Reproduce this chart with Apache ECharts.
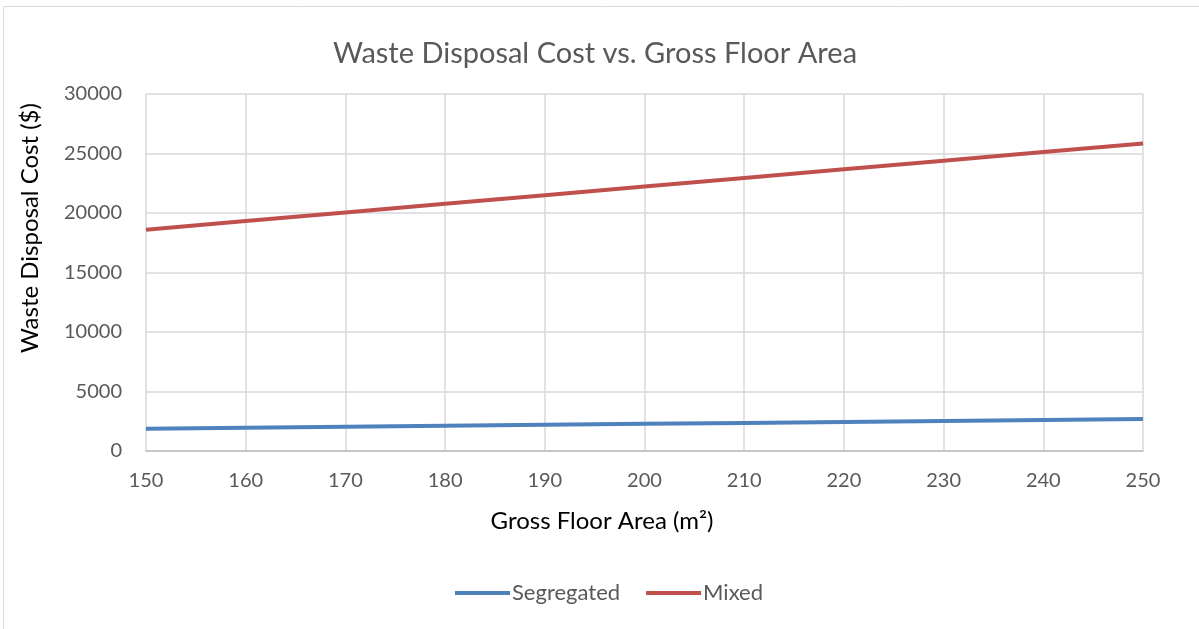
<!DOCTYPE html>
<html><head><meta charset="utf-8">
<script src="https://cdn.jsdelivr.net/npm/echarts@6/dist/echarts.min.js"></script>
<style>html,body{margin:0;padding:0;background:#fff}#c{width:1199px;height:629px}</style>
</head><body><div id="c"></div>
<script>
const areas = [150, 160, 170, 180, 190, 200, 210, 220, 230, 240, 250];
const segregated = [1880, 1960, 2040, 2120, 2200, 2280, 2360, 2440, 2520, 2600, 2680];
const mixed = [18600, 19325, 20050, 20775, 21500, 22225, 22950, 23675, 24400, 25125, 25850];
const xTicks = {min: 150, max: 250, step: 10};
const yTicks = {min: 0, max: 30000, step: 5000};
const FONT = 'Lato';
const chart = echarts.init(document.getElementById('c'));
chart.setOption({
  animation: false,
  textStyle: {fontFamily: FONT},
  title: {text: 'Waste Disposal Cost vs. Gross Floor Area', left: 328, top: 34,
    textStyle: {fontFamily: FONT, fontSize: 29, fontWeight: 'normal', color: '#595959'}},
  grid: {left: 146, right: 56, top: 94, bottom: 178},
  legend: {bottom: 20, left: 450, icon: 'rect', itemWidth: 55, itemHeight: 4, itemGap: 26,
    textStyle: {fontFamily: FONT, fontSize: 22, color: '#595959', padding: [0,0,0,-3]},
    data: ['Segregated', 'Mixed']},
  xAxis: {type: 'value', min: xTicks.min, max: xTicks.max, interval: xTicks.step,
    axisLine: {lineStyle: {color: '#bfbfbf', width: 1.5}}, axisTick: {show: false},
    axisLabel: {fontFamily: FONT, fontSize: 20, color: '#595959', margin: 20},
    splitLine: {show: true, lineStyle: {color: '#d9d9d9', width: 1.5}}},
  yAxis: {type: 'value', min: yTicks.min, max: yTicks.max, interval: yTicks.step,
    axisLine: {show: false}, axisTick: {show: false},
    axisLabel: {fontFamily: FONT, fontSize: 20, color: '#595959', margin: 24, formatter: v => String(v)},
    splitLine: {show: true, lineStyle: {color: '#d9d9d9', width: 1.5}}},
  graphic: [
    {type: 'rect', shape: {x: 3.5, y: 6.5, width: 1300, height: 700}, style: {fill: 'none', stroke: '#d9d9d9', lineWidth: 1}, silent: true},
    {type: 'text', x: 602, y: 521, style: {text: 'Gross Floor Area (m²)', font: '24px ' + FONT, fill: '#000', align: 'center', verticalAlign: 'middle'}},
    {type: 'text', x: 30, y: 228, rotation: Math.PI / 2, style: {text: 'Waste Disposal Cost ($)', font: '24px ' + FONT, fill: '#000', align: 'center', verticalAlign: 'middle'}}
  ],
  series: [
    {name: 'Segregated', type: 'line', showSymbol: false, symbol: 'none', color: '#4f81bd',
      lineStyle: {width: 4, color: '#4f81bd'}, data: areas.map((a, i) => [a, segregated[i]])},
    {name: 'Mixed', type: 'line', showSymbol: false, symbol: 'none', color: '#c0504d',
      lineStyle: {width: 4, color: '#c0504d'}, data: areas.map((a, i) => [a, mixed[i]])}
  ]
});
</script></body></html>
